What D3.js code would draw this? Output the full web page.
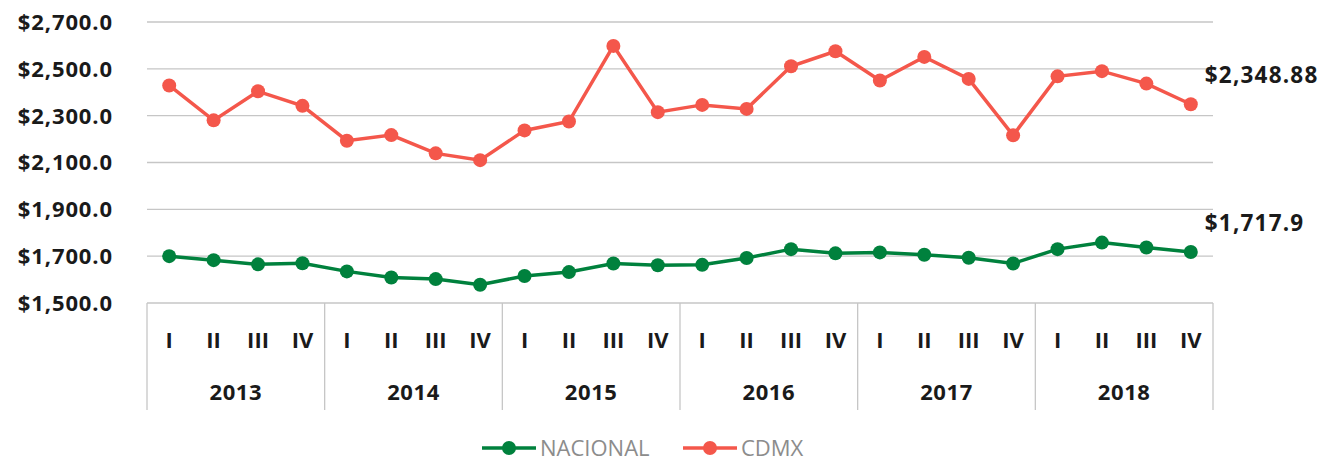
<!DOCTYPE html>
<html>
<head>
<meta charset="utf-8">
<script src="https://cdn.jsdelivr.net/npm/d3@7"></script>
<style>
  body { margin: 0; background: #fff; }
  text { font-family: "Open Sans", Lato, sans-serif; }
</style>
</head>
<body>
<div class="chart"></div>
<script>
var years = ["2013", "2014", "2015", "2016", "2017", "2018"];
var quarters = ["I", "II", "III", "IV"];
var nacional = [1700, 1683, 1665, 1670, 1635, 1609, 1602, 1578, 1615, 1632, 1669, 1661,
                1663, 1692, 1730, 1712, 1716, 1706, 1693, 1669, 1730, 1758, 1737, 1717.9];
var cdmx = [2429, 2280, 2404, 2342, 2193, 2217, 2139, 2110, 2237, 2275, 2598, 2315,
            2346, 2329, 2511, 2575, 2450, 2551, 2457, 2216, 2468, 2490, 2437, 2348.88];
var yTicks = [1500, 1700, 1900, 2100, 2300, 2500, 2700];
var seriesNames = ["NACIONAL", "CDMX"];
var lastLabels = ["$1,717.9", "$2,348.88"];

var svgWidth = 1322;
var svgHeight = 461;
var margin = { top: 22, right: 109, bottom: 158, left: 147 };
var width = svgWidth - margin.left - margin.right;
var height = svgHeight - margin.top - margin.bottom;

var colors = { NACIONAL: "#00813d", CDMX: "#f4574b" };
var ink = "#1a1a1a";

var svg = d3.select(".chart")
    .append("svg")
    .attr("width", svgWidth)
    .attr("height", svgHeight);

var chartGroup = svg.append("g")
    .attr("transform", `translate(${margin.left}, ${margin.top})`);

// categories: one per quarter
var cats = [];
years.forEach(y => quarters.forEach(q => cats.push(y + "-" + q)));

var x = d3.scaleBand().domain(cats).range([0, width]);
var y = d3.scaleLinear().domain([1500, 2700]).range([height, 0]);

// gridlines
chartGroup.selectAll(".grid")
    .data(yTicks)
    .join("line")
    .attr("x1", 0)
    .attr("x2", width)
    .attr("y1", d => y(d))
    .attr("y2", d => y(d))
    .attr("stroke", "#c6c6c6")
    .attr("stroke-width", 1.3);

// y labels
chartGroup.selectAll(".ylab")
    .data(yTicks)
    .join("text")
    .attr("x", -34)
    .attr("y", d => y(d))
    .attr("dy", "0.36em")
    .attr("text-anchor", "end")
    .attr("font-size", "22px")
    .attr("font-weight", "bold")
    .attr("letter-spacing", "0.9px")
    .attr("fill", ink)
    .text(d => "$" + d3.format(",.1f")(d));

// category axis box
var axisBottom = 107;
chartGroup.selectAll(".sep")
    .data(d3.range(years.length + 1))
    .join("line")
    .attr("x1", i => i * 4 * x.bandwidth())
    .attr("x2", i => i * 4 * x.bandwidth())
    .attr("y1", height)
    .attr("y2", height + axisBottom)
    .attr("stroke", "#c6c6c6")
    .attr("stroke-width", 1.3);

chartGroup.selectAll(".qlab")
    .data(cats)
    .join("text")
    .attr("x", d => x(d) + x.bandwidth() / 2)
    .attr("y", height + 37)
    .attr("dy", "0.36em")
    .attr("text-anchor", "middle")
    .attr("font-size", "22px")
    .attr("font-weight", "bold")
    .attr("fill", ink)
    .text(d => d.split("-")[1]);

chartGroup.selectAll(".ylab2")
    .data(years)
    .join("text")
    .attr("x", (d, i) => (i * 4 + 2) * x.bandwidth())
    .attr("y", height + 89)
    .attr("dy", "0.36em")
    .attr("text-anchor", "middle")
    .attr("font-size", "22px")
    .attr("font-weight", "bold")
    .attr("letter-spacing", "0.6px")
    .attr("fill", ink)
    .text(d => d);

// lines
var line = d3.line()
    .x((d, i) => x(cats[i]) + x.bandwidth() / 2)
    .y(d => y(d));

[nacional, cdmx].forEach((vals, k) => {
    var c = colors[seriesNames[k]];
    chartGroup.append("path")
        .datum(vals)
        .attr("d", line)
        .attr("fill", "none")
        .attr("stroke", c)
        .attr("stroke-width", 3.5);
    chartGroup.selectAll(".pt" + k)
        .data(vals)
        .join("circle")
        .attr("cx", (d, i) => x(cats[i]) + x.bandwidth() / 2)
        .attr("cy", d => y(d))
        .attr("r", 7)
        .attr("fill", c);
    var last = vals[vals.length - 1];
    chartGroup.append("text")
        .attr("x", x(cats[cats.length - 1]) + x.bandwidth() / 2 + 14)
        .attr("y", y(last) - 21)
        .attr("font-size", "22.5px")
        .attr("font-weight", "bold")
        .attr("letter-spacing", "1.2px")
        .attr("fill", ink)
        .text(lastLabels[k]);
});

// legend
var legend = svg.append("g").attr("transform", "translate(482, 448)");
var legX = [0, 201];
seriesNames.forEach((name, k) => {
    var g = legend.append("g").attr("transform", `translate(${legX[k]}, 0)`);
    g.append("line")
        .attr("x1", 0).attr("x2", 54)
        .attr("y1", 0).attr("y2", 0)
        .attr("stroke", colors[name])
        .attr("stroke-width", 3.5);
    g.append("circle")
        .attr("cx", 27).attr("cy", 0).attr("r", 7)
        .attr("fill", colors[name]);
    g.append("text")
        .attr("x", 58)
        .attr("y", 0)
        .attr("dy", "0.36em")
        .attr("font-size", "22px")
        .attr("fill", "#8c8c8c")
        .text(name);
});
</script>
</body>
</html>
